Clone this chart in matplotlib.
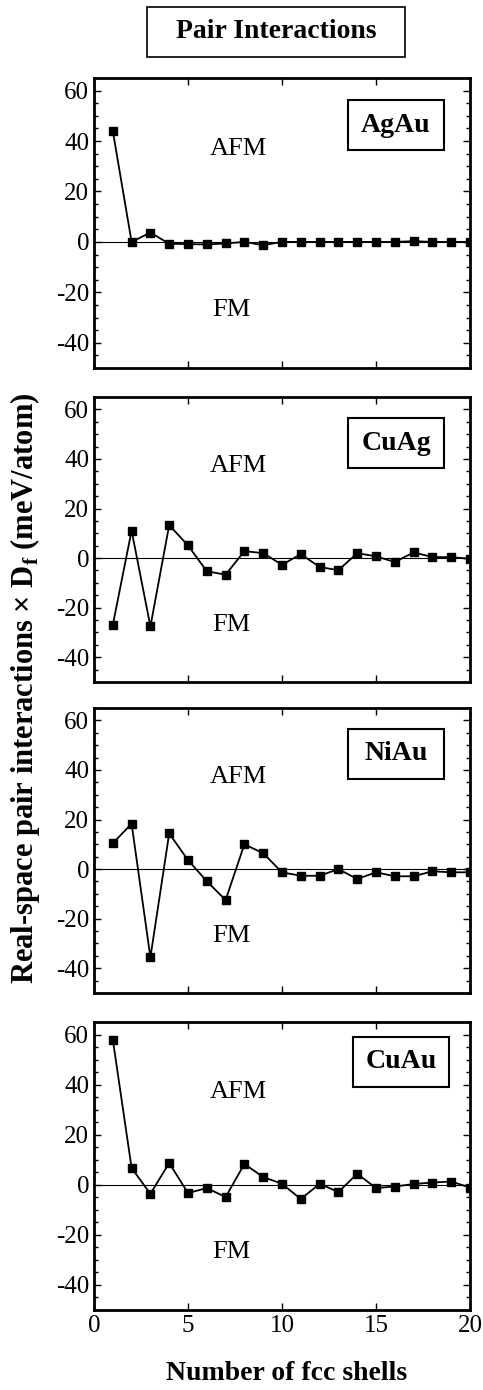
#!/usr/bin/env python3

import numpy as np
import matplotlib
matplotlib.use("Agg")
import matplotlib.pyplot as plt
from matplotlib.patches import Rectangle
from matplotlib.ticker import MultipleLocator

plt.rcParams["font.family"] = ["Liberation Serif", "DejaVu Serif"]
plt.rcParams["mathtext.fontset"] = "custom"
plt.rcParams["mathtext.rm"] = "Liberation Serif"
plt.rcParams["mathtext.bf"] = "Liberation Serif:bold"
plt.rcParams["axes.unicode_minus"] = False

# shell index 1..20
shells = np.arange(1, 21)

agau = [44, 0, 3.7, -0.7, -0.9, -1.0, -0.6, 0, -1.3, 0,
        0, 0, 0, 0, 0, 0, 0.3, 0, 0, 0]
cuag = [-27, 11.1, -27.6, 13.3, 5.1, -5.3, -6.7, 2.8, 2.0, -2.7,
        1.6, -3.6, -4.9, 2.0, 0.7, -1.6, 2.3, 0.4, 0.4, -0.3]
niau = [10.4, 18.3, -35.6, 14.4, 3.6, -4.9, -12.5, 10.0, 6.4, -1.3,
        -2.7, -2.7, 0, -4.0, -1.3, -2.9, -2.9, -0.9, -1.3, -1.3]
cuau = [58, 6.7, -3.6, 8.7, -3.3, -1.3, -4.9, 8.3, 3.1, 0.4,
        -5.7, 0.4, -2.9, 4.4, -1.3, -0.7, 0.3, 0.9, 1.3, -1.1]

names = ["AgAu", "CuAg", "NiAu", "CuAu"]
series = [agau, cuag, niau, cuau]

W, H = 483, 1390
fig = plt.figure(figsize=(W / 100, H / 100), dpi=100)


def pbox(x0, y0, x1, y1, lw=1.5):
    # rectangle given in pixel coords (y from top)
    fig.add_artist(Rectangle((x0 / W, 1 - y1 / H), (x1 - x0) / W, (y1 - y0) / H,
                             transform=fig.transFigure, fc="white", ec="black",
                             lw=lw, zorder=5))


# panel pixel extents (top, bottom) and name-box centres
panels = [(78, 368), (397, 682), (708, 993), (1022, 1310)]
box_cx = [396, 396, 396, 401]
box_cy = [125, 443, 754, 1062]
left, right = 94, 470

for i, ((top, bot), name, vals) in enumerate(zip(panels, names, series)):
    ax = fig.add_axes([left / W, 1 - bot / H, (right - left) / W, (bot - top) / H])
    ax.axhline(0, color="black", lw=0.8)
    ax.plot(shells, vals, color="black", lw=1.3, marker="s", ms=6)
    ax.set_xlim(0, 20)
    ax.set_ylim(-50, 65)
    ax.xaxis.set_major_locator(MultipleLocator(5))
    ax.yaxis.set_major_locator(MultipleLocator(20))
    ax.yaxis.set_minor_locator(MultipleLocator(5))
    ax.tick_params(which="both", direction="in", top=True, right=True,
                   labelsize=18, width=1)
    ax.tick_params(which="major", length=5)
    ax.tick_params(which="minor", length=3)
    for s in ax.spines.values():
        s.set_linewidth(2)
    if i < 3:
        ax.tick_params(labelbottom=False)

    ax.text(7.7, 37, "AFM", ha="center", va="center", fontsize=19)
    ax.text(7.3, -27, "FM", ha="center", va="center", fontsize=19)

    cx, cy = box_cx[i], box_cy[i]
    pbox(cx - 48, cy - 25, cx + 48, cy + 25)
    fig.text(cx / W, 1 - cy / H, name, ha="center", va="center", fontsize=20,
             fontweight="bold", zorder=6)

pbox(147, 7, 405, 57, lw=1.2)
fig.text(276 / W, 1 - 32 / H, "Pair Interactions", ha="center", va="center",
         fontsize=20, fontweight="bold", zorder=6)

fig.text(287 / W, 1 - 1374 / H, "Number of fcc shells", ha="center",
         va="center", fontsize=20, fontweight="bold")

fig.text(25 / W, 1 - 688 / H,
         r"Real-space pair interactions $\mathbf{\times}$ D$_\mathbf{f}$ (meV/atom)",
         ha="center", va="center", rotation=90, fontsize=22, fontweight="bold")

fig.savefig("out.png", dpi=100)
